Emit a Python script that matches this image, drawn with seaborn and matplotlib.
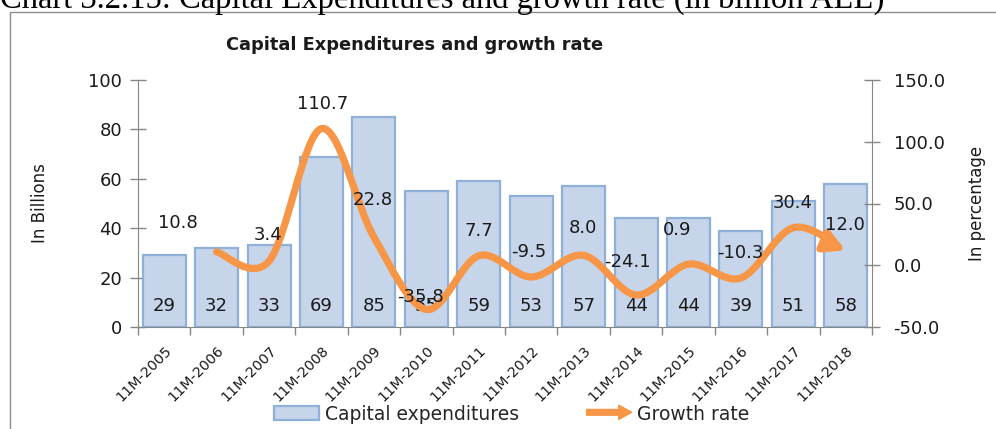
import matplotlib
matplotlib.use("Agg")
import matplotlib.pyplot as plt
import matplotlib.patches as mpatches
import numpy as np
import seaborn as sns
from matplotlib.legend_handler import HandlerPatch
from matplotlib.path import Path

periods = ["11M-2005", "11M-2006", "11M-2007", "11M-2008", "11M-2009", "11M-2010", "11M-2011",
           "11M-2012", "11M-2013", "11M-2014", "11M-2015", "11M-2016", "11M-2017", "11M-2018"]
capex = [29, 32, 33, 69, 85, 55, 59, 53, 57, 44, 44, 39, 51, 58]
growth = [None, 10.8, 3.4, 110.7, 22.8, -35.8, 7.7, -9.5, 8.0, -24.1, 0.9, -10.3, 30.4, 12.0]

# label offsets (pixels, dx / dy up) as placed in the original
lbl_off = [None, (-39, 29), (-1, 26), (1, 25), (-1, 37), (-6, 12), (0, 25),
           (-2, 25), (-1, 27), (-9, 33), (-11, 34), (-1, 25), (-1, 25), (-1, 25)]

bar_face = "#C6D5EA"
bar_edge = "#8FB0D8"
orange = "#F79646"
axis_col = "#868686"
txt_col = "#1a1a1a"

sns.set_style("white")
plt.rcParams["font.family"] = ["DejaVu Sans"]

W, H = 996, 429
fig = plt.figure(figsize=(W / 100, H / 100), dpi=100)
ax = fig.add_axes([138 / W, 1 - 327 / H, (872 - 138) / W, (327 - 80) / H])
ax2 = ax.twinx()

# bars
sns.barplot(x=periods, y=capex, ax=ax, color=bar_face, saturation=1, width=0.82,
            edgecolor=bar_edge, linewidth=1.6, zorder=2)
ax.set_xlim(-0.5, len(periods) - 0.5)
ax.set_ylim(0, 100)
ax2.set_ylim(-50, 150)
ax.set_zorder(1)
ax2.set_zorder(2)
ax.patch.set_visible(False)
ax2.patch.set_visible(False)

for i, v in enumerate(capex):
    ax.text(i, 8.5, str(v), ha="center", va="center", fontsize=13, color=txt_col, zorder=3)

# smoothed growth line (Bezier through the points, like a spreadsheet smooth line)
xs = [i for i, g in enumerate(growth) if g is not None]
ys = [g for g in growth if g is not None]
pts = np.column_stack([xs, ys]).astype(float)
verts = [pts[0]]
codes = [Path.MOVETO]
n = len(pts)
for k in range(n - 1):
    p0 = pts[k - 1] if k > 0 else pts[k]
    p1 = pts[k]
    p2 = pts[k + 1]
    p3 = pts[k + 2] if k + 2 < n else pts[k + 1]
    c1 = p1 + (p2 - p0) / 6.0
    c2 = p2 - (p3 - p1) / 6.0
    verts += [c1, c2, p2]
    codes += [Path.CURVE4] * 3
line = mpatches.FancyArrowPatch(path=Path(verts, codes), arrowstyle="-|>,head_length=0.6,head_width=0.32",
                                mutation_scale=20, color=orange, lw=5.2, capstyle="round",
                                joinstyle="round", transform=ax2.transData, zorder=4)
ax2.add_patch(line)

for i, g in enumerate(growth):
    if g is None:
        continue
    dx, dy = lbl_off[i]
    ax2.annotate(f"{g:.1f}", (i, g), xytext=(dx * 0.72, dy * 0.72), textcoords="offset points",
                 ha="center", va="center", fontsize=13, color=txt_col, zorder=5)

# axes styling
for s in ["top", "right"]:
    ax.spines[s].set_visible(False)
for s in ["top", "left", "bottom"]:
    ax2.spines[s].set_visible(False)
ax.spines["left"].set_color(axis_col)
ax.spines["bottom"].set_color(axis_col)
ax2.spines["right"].set_color(axis_col)

ax.set_yticks([0, 20, 40, 60, 80, 100])
ax.tick_params(axis="y", direction="inout", length=11, width=1, color=axis_col, pad=6,
               labelsize=13, labelcolor=txt_col, left=True)
ax2.set_yticks([-50, 0, 50, 100, 150])
ax2.set_yticklabels([f"{t:.1f}" for t in [-50, 0, 50, 100, 150]])
ax2.tick_params(axis="y", direction="inout", length=11, width=1, color=axis_col, pad=10,
                labelsize=13, labelcolor=txt_col, right=True)

ax.set_xticks(range(len(periods)))
ax.set_xticklabels(periods, rotation=45, ha="right", rotation_mode="anchor", fontsize=10.3,
                   color=txt_col)
ax.tick_params(axis="x", which="major", length=0, pad=12, bottom=True)
ax.set_xticks(np.arange(-0.5, len(periods), 1.0), minor=True)
ax.tick_params(axis="x", which="minor", direction="out", length=6, width=1, color=axis_col, bottom=True)
ax.set_xlabel("")

ax.set_ylabel("In Billions", fontsize=12, labelpad=28, color=txt_col)
ax2.set_ylabel("In percentage", fontsize=12, labelpad=17, color=txt_col)

fig.text(415 / W, 1 - 45 / H, "Capital Expenditures and growth rate", ha="center", va="center",
         fontsize=12.8, fontweight="bold", color=txt_col)

# caption above the chart box (cut by the page edge in the source)
fig.text(0, 1 - 8 / H, "Chart 3.2.15: Capital Expenditures and growth rate (in billion ALL)",
         ha="left", va="baseline", fontsize=23.5, family="Liberation Serif", color="black")

# chart frame
frame = mpatches.Rectangle((10 / W, -0.1), 1.2, 1 - 12 / H + 0.1, transform=fig.transFigure,
                           fill=False, edgecolor="#8C8C8C", lw=1.0)
fig.add_artist(frame)


def make_arrow(legend, orig_handle, xdescent, ydescent, width, height, fontsize):
    return mpatches.FancyArrow(0, height / 2, width, 0, width=height * 0.4, head_width=height * 1.0,
                               head_length=height * 0.9, length_includes_head=True, color=orange)


bar_handle = mpatches.Patch(facecolor=bar_face, edgecolor=bar_edge, lw=1.6, label="Capital expenditures")
arrow_handle = mpatches.Patch(color=orange, label="Growth rate")
fig.legend(handles=[bar_handle, arrow_handle], loc="center", bbox_to_anchor=(512 / W, 1 - 414 / H),
           ncol=2, frameon=False, fontsize=13.5, handlelength=2.4, handleheight=0.8,
           handletextpad=0.3, columnspacing=3.6,
           handler_map={arrow_handle: HandlerPatch(patch_func=make_arrow)})

fig.savefig("out.png", dpi=100)
